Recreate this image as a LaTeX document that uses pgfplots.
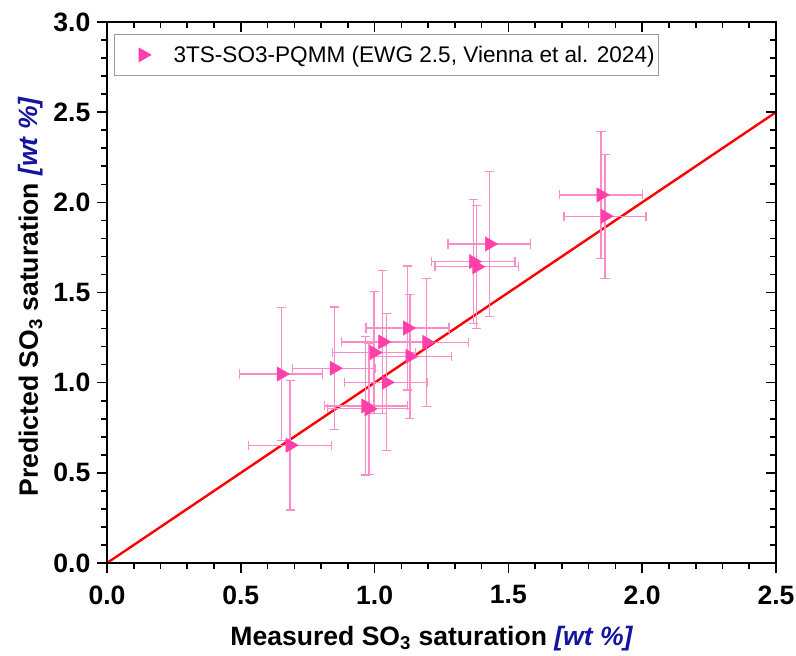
\documentclass[border=0pt]{standalone}
\usepackage{fontspec}
\setmainfont{Liberation Sans}
\usepackage{pgfplots}
\usepackage{pgfplotstable}
\pgfplotsset{compat=1.18}

\definecolor{pinkm}{RGB}{255,64,170}
\definecolor{pinke}{RGB}{255,140,200}
\definecolor{labblue}{RGB}{20,20,160}

\pgfplotstableread{
x      y      ex     ey
0.651  1.048  0.155  0.368
0.684  0.653  0.155  0.359
0.849  1.080  0.155  0.340
0.967  0.871  0.155  0.383
0.979  0.855  0.155  0.365
0.998  1.167  0.155  0.337
1.030  1.226  0.155  0.395
1.043  1.002  0.155  0.380
1.123  1.303  0.155  0.344
1.132  1.146  0.155  0.344
1.195  1.223  0.155  0.356
1.369  1.671  0.156  0.344
1.382  1.643  0.156  0.341
1.429  1.769  0.155  0.400
1.846  2.041  0.156  0.351
1.861  1.923  0.153  0.344
}\datatable

\begin{document}
\begin{tikzpicture}
\begin{axis}[
  at={(0,0)}, anchor=south west,
  scale only axis, width=501.75bp, height=405.75bp,
  xmin=0, xmax=2.5, ymin=0, ymax=3.0,
  xtick={0,0.5,1,1.5,2,2.5}, ytick={0,0.5,1,1.5,2,2.5,3},
  minor tick num=4,
  tick align=outside, xtick pos=bottom, ytick pos=left,
  major tick length=7.5bp, minor tick length=4.5bp,
  every tick/.style={black, line width=1.2bp},
  axis line style={line width=1.5bp},
  ticklabel style={font=\fontsize{20}{24}\selectfont\bfseries},
  xticklabel style={yshift=-6bp},
  yticklabel style={xshift=-1.5bp},
  /pgf/number format/assume math mode=true,
  /pgf/number format/.cd, fixed, fixed zerofill, precision=1, /pgfplots/.cd,
  label style={font=\fontsize{20}{24}\selectfont\bfseries},
  xlabel={Measured SO\textsubscript{3} saturation \textcolor{labblue}{\itshape [wt \%]}},
  ylabel={Predicted SO\textsubscript{3} saturation \textcolor{labblue}{\itshape [wt \%]}},
  xlabel style={at={(axis description cs:0.5,0)}, anchor=base, yshift=-62bp, xshift=-7.5bp},
  ylabel style={at={(axis description cs:0,0.5)}, anchor=base, yshift=51.75bp, xshift=-3.4bp},
  legend style={at={(0.0105,0.978)}, anchor=north west, draw=gray!80, line width=0.75bp,
    font=\fontsize{17}{20}\selectfont, inner xsep=1bp, inner ysep=6.5bp},
  legend cell align=left,
  legend image code/.code={\path (-20bp,0) (20.5bp,0); \draw[#1] plot coordinates {(0,0)};},
  clip=false,
]
\addplot[red, line width=1.8bp, forget plot] coordinates {(0,0) (2.5,2.5)};
\addplot[pinke, only marks, mark=triangle*, mark size=6bp,
  mark options={rotate=-90, fill=pinkm, draw=pinkm, line width=0.5bp},
  error bars/.cd, x dir=both, x explicit, y dir=both, y explicit,
  error bar style={pinke, line width=0.9bp},
  error mark options={pinke, draw=pinke, fill=pinke, mark size=3.4bp, line width=0.9bp, rotate=90}]
  table[x=x, y=y, x error=ex, y error=ey]{\datatable};
\addlegendentry{3TS-SO3-PQMM (EWG 2.5, Vienna et al. 2024)}
\end{axis}
\begin{axis}[
  at={(0,0)}, anchor=south west,
  scale only axis, width=501.75bp, height=405.75bp,
  xmin=0, xmax=2.5, ymin=0, ymax=3.0,
  xtick={0,0.5,1,1.5,2,2.5}, ytick={0,0.5,1,1.5,2,2.5,3},
  minor tick num=4,
  tick align=inside, xtick pos=top, ytick pos=right,
  major tick length=7.5bp, minor tick length=4.5bp,
  every tick/.style={black, line width=1.2bp},
  axis line style={line width=1.5bp},
  xticklabels={}, yticklabels={},
]
\end{axis}
\pgfresetboundingbox
\path (-80.25bp,-69.75bp) rectangle (516.75bp,422.25bp);
\end{tikzpicture}
\end{document}
